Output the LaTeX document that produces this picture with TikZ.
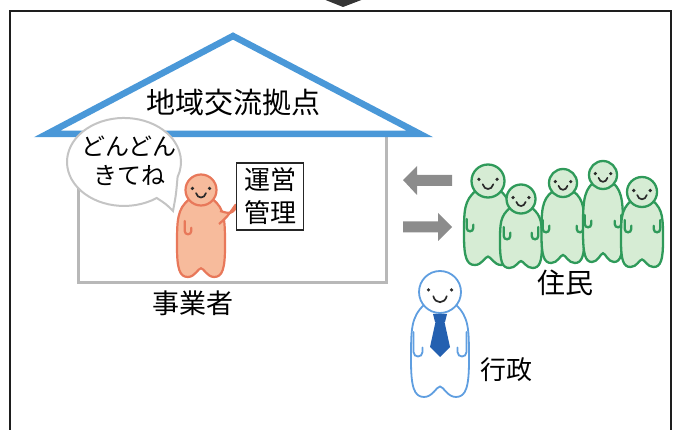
\documentclass[tikz,border=0pt]{standalone}
\usepackage{fontspec}
\newfontfamily\jp{Noto Sans CJK JP}
\definecolor{roofblue}{HTML}{4A98D8}
\definecolor{wallgray}{HTML}{B8B8B8}
\definecolor{arrowgray}{HTML}{8C8C8C}
\definecolor{bubblegray}{HTML}{C4C4C4}
\definecolor{framecol}{HTML}{1E1E1E}
\definecolor{orgfill}{HTML}{F7BB9C}
\definecolor{orgline}{HTML}{E8785A}
\definecolor{grnfill}{HTML}{D6ECD4}
\definecolor{grnline}{HTML}{2F9A5A}
\definecolor{bluline}{HTML}{5F9EE0}
\definecolor{tieblue}{HTML}{2460B0}
\definecolor{facecol}{HTML}{2A2A2A}

% body of a little figure: centre x, head centre y, head radius, half width, height, style
\newcommand\dudebody[6]{%
  \filldraw[#6] ({#1-0.75*#3},{#2+0.6*#3})
    .. controls ({#1-#4},{#2+1.2*#3}) and ({#1-#4},{#2+0.35*#5}) .. ({#1-#4},{#2+0.65*#5})
    .. controls ({#1-#4},{#2+0.9*#5}) and ({#1-0.9*#4},{#2+#5}) .. ({#1-0.55*#4},{#2+#5})
    .. controls ({#1-0.25*#4},{#2+#5}) and ({#1-0.12*#4},{#2+0.9*#5}) .. ({#1},{#2+0.9*#5})
    .. controls ({#1+0.12*#4},{#2+0.9*#5}) and ({#1+0.25*#4},{#2+#5}) .. ({#1+0.55*#4},{#2+#5})
    .. controls ({#1+0.9*#4},{#2+#5}) and ({#1+#4},{#2+0.9*#5}) .. ({#1+#4},{#2+0.65*#5})
    .. controls ({#1+#4},{#2+0.35*#5}) and ({#1+#4},{#2+1.2*#3}) .. ({#1+0.75*#3},{#2+0.6*#3})
    -- cycle;}
% head with eyes and smile: centre x, centre y, radius, style
\newcommand\dudehead[4]{%
  \filldraw[#4] (#1,#2) circle[radius=#3];
  \fill[facecol] ({#1-0.55*#3},{#2-0.1*#3}) circle[radius=1.8];
  \fill[facecol] ({#1+0.55*#3},{#2-0.1*#3}) circle[radius=1.8];
  \draw[facecol, line width=1.7, line cap=round]
    ({#1-0.32*#3},{#2+0.2*#3}) .. controls ({#1-0.22*#3},{#2+0.58*#3})
    and ({#1+0.22*#3},{#2+0.58*#3}) .. ({#1+0.32*#3},{#2+0.2*#3});}
% small hand: x, y, side (1 left, -1 right), size, arm length, style
\newcommand\dudehand[6]{%
  \begin{scope}[shift={(#1,#2)}, xscale=#3]
    \draw[#6, fill=none, line cap=round] (-3*#4,-#5) -- (-3*#4,0)
      .. controls (-3*#4,4*#4) and (3*#4,4*#4) .. (3*#4,0) -- (3*#4,-3*#4);
  \end{scope}}

\begin{document}
\begin{tikzpicture}[x=1pt, y=-1pt,
  lbl/.style={font=\jp, text=black, inner sep=0pt},
  frameline/.style={draw=framecol, line width=2.5},
  wall/.style={draw=wallgray, line width=3},
  roofline/.style={draw=roofblue, line width=6.5, line join=miter},
  bubble/.style={draw=bubblegray, fill=white, line width=2},
  signbox/.style={draw=black!85, line width=1.3, fill=white, font=\jp,
    align=center, minimum width=67, minimum height=67, inner sep=2pt},
  blockarrow/.style={fill=arrowgray},
  orgdude/.style={fill=orgfill, draw=orgline, line width=2.2},
  grndude/.style={fill=grnfill, draw=grnline, line width=2.3},
  bludude/.style={fill=white, draw=bluline, line width=1.8}]
\useasboundingbox (0,0) rectangle (680,430);

% outer frame and the arrow tip above it
\fill[framecol!90] (323,-1) -- (364,-1) -- (343,7) -- cycle;
\draw[frameline] (10,440) -- (10,11) -- (671,11) -- (671,440);

% house walls and roof
\draw[wall] (78,134) -- (78,283) -- (386.5,283) -- (386.5,134);
\draw[roofline] (47,134) -- (233,36) -- (420,134) -- cycle;
\node[lbl, font=\jp\fontsize{29}{32}\selectfont] (roof) at (233,103) {地域交流拠点};

% speech bubble
\draw[bubble] (156.7,198) arc[start angle=55, end angle=380, x radius=57, y radius=44]
  .. controls (176,195) .. (173,211) .. controls (166,204) .. cycle;
\node[lbl, align=center, font=\jp\fontsize{24}{29}\selectfont] (talk) at (129,161) {どんどん\\きてね};

% operator figure
\dudebody{201}{190}{15.5}{24}{87}{orgdude}
\filldraw[orgdude] (219,224) .. controls (227,217) .. (234,207)
  .. controls (236,203) and (238,205) .. (236,208) .. controls (231,214) .. (220,211);
\dudehead{201}{190}{15.5}{orgdude}
\dudehand{188}{231}{1}{1.1}{10}{orgdude}
\node[signbox, font=\jp\fontsize{26}{33}\selectfont] (sign) at (270,196.5) {運営\\管理};
\node[lbl, font=\jp\fontsize{27}{30}\selectfont] (operator) at (193,303) {事業者};

% exchange arrows
\fill[blockarrow] (403,180) -- (417,166) -- (417,175) -- (452,175) -- (452,186) -- (417,186) -- (417,195) -- cycle;
\fill[blockarrow] (452,227) -- (438,213) -- (438,221.5) -- (403,221.5) -- (403,232.5) -- (438,232.5) -- (438,241) -- cycle;

% residents
\dudebody{488}{181}{16.5}{24}{84}{grndude}
\dudehead{488}{181}{16.5}{grndude}
\dudehand{470}{228}{1}{1.1}{9}{grndude}
\dudebody{521}{199}{14.5}{21}{69}{grndude}
\dudehead{521}{199}{14.5}{grndude}
\dudehand{507}{236}{1}{1.1}{9}{grndude}
\dudehand{535}{236}{-1}{1.1}{9}{grndude}
\dudebody{563}{183}{14}{21.5}{80}{grndude}
\dudehead{563}{183}{14}{grndude}
\dudehand{546}{229}{1}{1.1}{9}{grndude}
\dudehand{580}{229}{-1}{1.1}{9}{grndude}
\dudebody{603}{175}{14}{20}{87}{grndude}
\dudehead{603}{175}{14}{grndude}
\dudehand{588}{224}{1}{1.1}{9}{grndude}
\dudehand{618}{224}{-1}{1.1}{9}{grndude}
\dudebody{642}{192}{15}{21}{75}{grndude}
\dudehead{642}{192}{15}{grndude}
\dudehand{628}{229}{1}{1.1}{9}{grndude}
\dudehand{657}{229}{-1}{1.1}{9}{grndude}
\node[lbl, font=\jp\fontsize{28}{30}\selectfont] (residents) at (565,283) {住民};

% administration figure
\dudebody{440}{292}{21}{29}{105}{bludude}
\dudehead{440}{292}{21}{bludude}
\fill[tieblue] (433,314) -- (447,314) -- (445,322) -- (435,322) -- cycle;
\fill[tieblue] (435.5,322) -- (444.5,322) -- (450,347) -- (440,357) -- (430,347) -- cycle;
\dudehand{418}{352}{1}{1.5}{20}{bludude}
\dudehand{462}{352}{-1}{1.5}{20}{bludude}
\node[lbl, font=\jp\fontsize{26}{30}\selectfont] (admin) at (506,370) {行政};
\end{tikzpicture}
\end{document}
